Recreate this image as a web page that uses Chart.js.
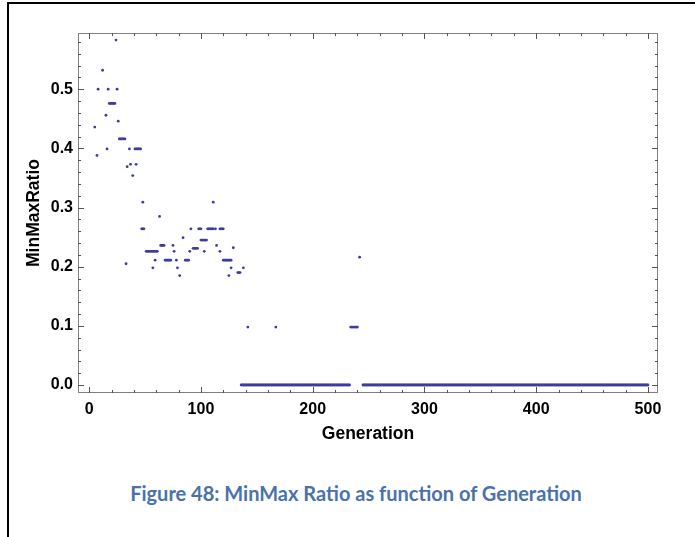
<!DOCTYPE html>
<html>
<head>
<meta charset="utf-8">
<script src="https://cdn.jsdelivr.net/npm/chart.js@4.4.1/dist/chart.umd.min.js"></script>
<style>
html, body { margin: 0; padding: 0; background: #fff; }
body { width: 695px; height: 537px; position: relative; overflow: hidden; }
#page { position: absolute; left: 7px; top: 2px; right: -10px; bottom: -10px; border-left: 2px solid #000; border-top: 2px solid #000; }
#wrap { position: absolute; left: 0; top: 0; width: 695px; height: 460px; }
#caption { position: absolute; left: 0; width: 712px; top: 481px; text-align: center; font: bold 20px Lato, sans-serif; line-height: 24px; color: #4a72aa; }
</style>
</head>
<body>
<div id="page"></div>
<div id="wrap"><canvas id="myChart"></canvas></div>
<div id="caption">Figure 48: MinMax Ratio as function of Generation</div>
<script>
// runs of equal ratio: generation from..to -> ratio
var runStart = [5, 7, 8, 12, 15, 16, 17, 18, 24, 25, 26, 27, 33, 34, 36, 37, 39, 41, 42, 48, 47, 51, 57, 59,
    63, 64, 68, 75, 76, 78, 79, 81, 84, 86, 90, 91, 93, 98, 100, 103, 106, 111, 113, 114, 117, 117,
    120, 125, 127, 129, 133, 136, 138, 142, 167, 234, 242, 245];
var runEnd = [5, 7, 8, 12, 15, 16, 17, 23, 24, 25, 26, 32, 33, 34, 36, 37, 39, 46, 42, 48, 49, 61, 57, 59,
    63, 67, 73, 75, 76, 78, 79, 81, 84, 89, 90, 91, 97, 100, 105, 103, 111, 111, 113, 114, 117, 120,
    127, 125, 127, 129, 135, 233, 138, 142, 167, 240, 242, 500];
var runRatio = [0.436, 0.388, 0.5, 0.532, 0.456, 0.399, 0.5, 0.476, 0.583, 0.5, 0.446, 0.416, 0.205, 0.369,
    0.399, 0.373, 0.354, 0.399, 0.373, 0.309, 0.264, 0.226, 0.198, 0.211,
    0.285, 0.236, 0.211, 0.236, 0.226, 0.211, 0.198, 0.185, 0.249, 0.211, 0.226, 0.264, 0.231, 0.264,
    0.245, 0.226, 0.264, 0.309, 0.264, 0.236, 0.226, 0.264,
    0.211, 0.185, 0.198, 0.232, 0.19, 0, 0.198, 0.098, 0.098, 0.098, 0.216, 0];
var xTickLabels = [0, 100, 200, 300, 400, 500];
var yTickLabels = [0, 0.1, 0.2, 0.3, 0.4, 0.5];

var points = [];
runStart.forEach(function (s, i) {
    for (var g = s; g <= runEnd[i]; g++) points.push({ x: g, y: runRatio[i] });
});

// Mathematica style frame with inward ticks on all sides
const frameTicks = {
    id: 'frameTicks',
    beforeDatasetsDraw(chart) {
        const { ctx, chartArea: a, scales: { x, y } } = chart;
        ctx.save();
        ctx.strokeStyle = '#808080';
        ctx.lineWidth = 1;
        ctx.strokeRect(a.left + 0.5, a.top + 0.5, a.right - a.left - 1, a.bottom - a.top - 1);
        ctx.strokeStyle = '#555';
        ctx.beginPath();
        for (let v = 0; v <= 500; v += 20) {
            const len = v % 100 === 0 ? 6 : 3;
            const px = Math.round(x.getPixelForValue(v)) + 0.5;
            ctx.moveTo(px, a.bottom); ctx.lineTo(px, a.bottom - len);
            ctx.moveTo(px, a.top); ctx.lineTo(px, a.top + len);
        }
        for (let k = 0; k <= 29; k++) {
            const len = k % 5 === 0 ? 6 : 3;
            const py = Math.round(y.getPixelForValue(k * 0.02)) + 0.5;
            ctx.moveTo(a.left, py); ctx.lineTo(a.left + len, py);
            ctx.moveTo(a.right, py); ctx.lineTo(a.right - len, py);
        }
        ctx.stroke();
        ctx.restore();
    }
};

const tickFont = { family: 'Liberation Sans', size: 16, weight: 'bold' };
const titleFont = { family: 'Liberation Sans', size: 17.5, weight: 'bold' };

new Chart('myChart', {
    type: 'scatter',
    data: {
        datasets: [{
            data: points,
            backgroundColor: '#3c3ca0',
            borderWidth: 0,
            pointRadius: 1.4
        }]
    },
    options: {
        responsive: true,
        maintainAspectRatio: false,
        animation: false,
        layout: { padding: { left: 22, top: 33, right: 37, bottom: 0 } },
        plugins: { legend: { display: false }, tooltip: { enabled: false } },
        scales: {
            x: {
                type: 'linear',
                min: -10,
                max: 509,
                grid: { display: false, drawTicks: false },
                border: { display: false },
                afterBuildTicks: function (scale) { scale.ticks = xTickLabels.map(v => ({ value: v })); },
                afterFit: function (scale) { scale.height = 67; },
                ticks: { color: '#000', font: tickFont, padding: 7, maxRotation: 0, callback: v => String(v) },
                title: { display: true, text: 'Generation', color: '#000', font: titleFont, padding: { top: 0, bottom: 15 } }
            },
            y: {
                type: 'linear',
                min: -0.0135,
                max: 0.595,
                grid: { display: false, drawTicks: false },
                border: { display: false },
                afterBuildTicks: function (scale) { scale.ticks = yTickLabels.map(v => ({ value: v })); },
                afterFit: function (scale) { scale.width = 56; },
                ticks: { color: '#000', font: tickFont, padding: 5, callback: v => v.toFixed(1) },
                title: { display: true, text: 'MinMaxRatio', color: '#000', font: titleFont, padding: { top: 2, bottom: 0 } }
            }
        }
    },
    plugins: [frameTicks]
});
</script>
</body>
</html>
